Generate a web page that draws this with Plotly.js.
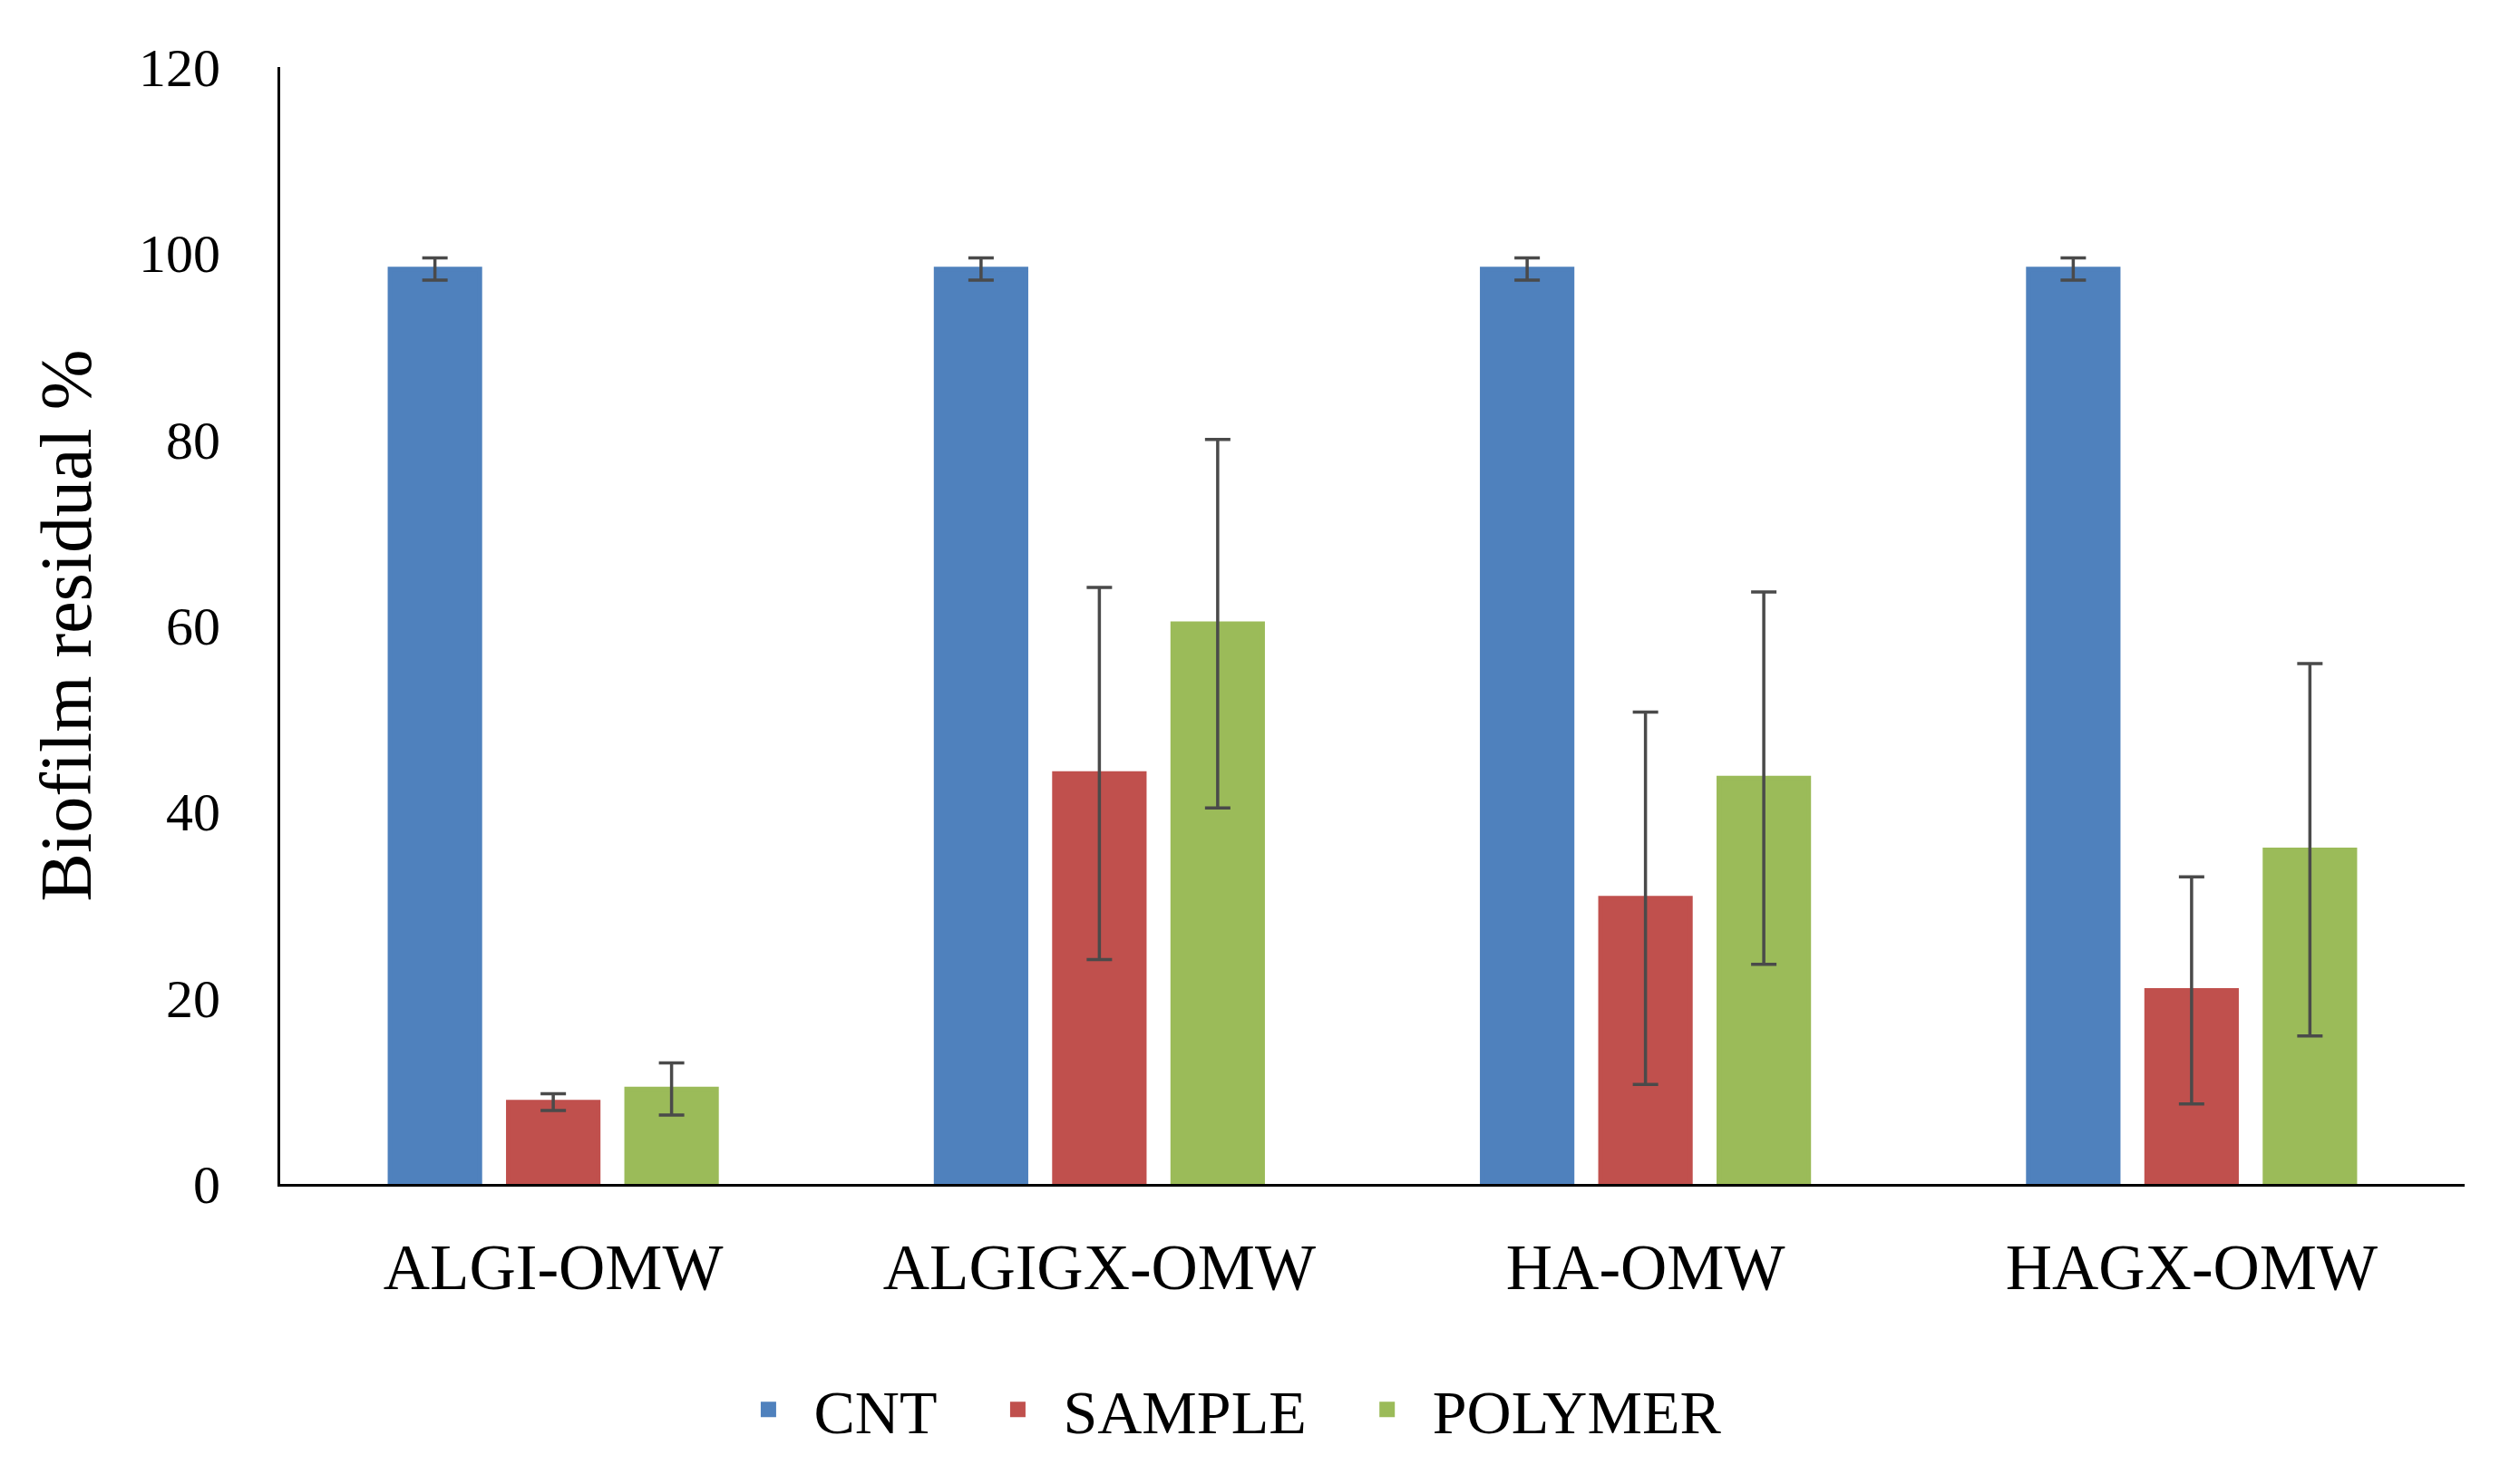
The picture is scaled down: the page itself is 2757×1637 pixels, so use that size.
<!DOCTYPE html>
<html>
<head>
<meta charset="utf-8">
<script src="https://cdn.plot.ly/plotly-3.0.1.min.js"></script>
<style>
  html, body { margin: 0; padding: 0; background: #ffffff; }
  #graphDiv { width: 2757px; height: 1637px; }
</style>
</head>
<body>
<div id="graphDiv"></div>
<script>
// html tag
const graphDiv = document.getElementById('graphDiv');

// data ************************************************************************
const categories = ['ALGI-OMW', 'ALGIGX-OMW', 'HA-OMW', 'HAGX-OMW'];

const cntValues     = [98.3, 98.3, 98.3, 98.3];
const cntErrors     = [1.2, 1.2, 1.2, 1.2];

const sampleValues  = [8.8, 44.1, 30.7, 20.8];
const sampleErrors  = [0.9, 20.0, 20.0, 12.2];

const polymerValues = [10.2, 60.2, 43.6, 35.9];
const polymerErrors = [2.8, 19.8, 20.0, 20.0];

const yTicks = [0, 20, 40, 60, 80, 100, 120];

// style ***********************************************************************
const textFont = 'Liberation Serif, Times New Roman, serif';
const errColor = '#4a4a4a';
const pad = '\u00a0\u00a0';   // a bit of room after legend labels

function barTrace(name, color, values, errors) {
  return {
    name: name,
    type: 'bar',
    x: categories,
    y: values,
    marker: { color: color, line: { color: color, width: 5 } },
    error_y: {
      type: 'data',
      array: errors,
      visible: true,
      color: errColor,
      thickness: 3.5,
      width: 14
    }
  };
}

Plotly.newPlot(
  graphDiv,
  [
    barTrace('CNT' + pad, '#4F81BD', cntValues, cntErrors),
    barTrace('SAMPLE' + pad, '#C0504D', sampleValues, sampleErrors),
    barTrace('POLYMER', '#9BBB59', polymerValues, polymerErrors)
  ],
  {
    width: 2757,
    height: 1637,
    paper_bgcolor: '#ffffff',
    plot_bgcolor: '#ffffff',
    margin: { l: 309, r: 39, t: 74, b: 331, autoexpand: false },
    barmode: 'group',
    bargap: 0.35,
    bargroupgap: 0.24,
    font: { family: textFont, color: '#000000' },
    showlegend: true,
    legend: {
      orientation: 'h',
      xref: 'container',
      yref: 'container',
      x: 0.49,
      xanchor: 'center',
      y: 0.05,
      yanchor: 'middle',
      font: { family: textFont, size: 68, color: '#000000' },
      itemwidth: 90
    },
    xaxis: {
      type: 'category',
      range: [-0.5, 3.5],
      showline: true,
      linecolor: '#000000',
      linewidth: 3,
      showgrid: false,
      zeroline: false,
      ticks: '',
      ticklabelstandoff: 28,
      tickfont: { family: textFont, size: 71, color: '#000000' },
      fixedrange: true
    },
    yaxis: {
      range: [0, 120],
      tickvals: yTicks,
      showline: true,
      linecolor: '#000000',
      linewidth: 3,
      showgrid: false,
      zeroline: false,
      ticks: '',
      ticklabelstandoff: 51,
      tickfont: { family: textFont, size: 60, color: '#000000' },
      title: {
        text: 'Biofilm residual %',
        font: { family: textFont, size: 80, color: '#000000' },
        standoff: 27
      },
      fixedrange: true
    }
  },
  { displayModeBar: false, staticPlot: true }
);
</script>
</body>
</html>
